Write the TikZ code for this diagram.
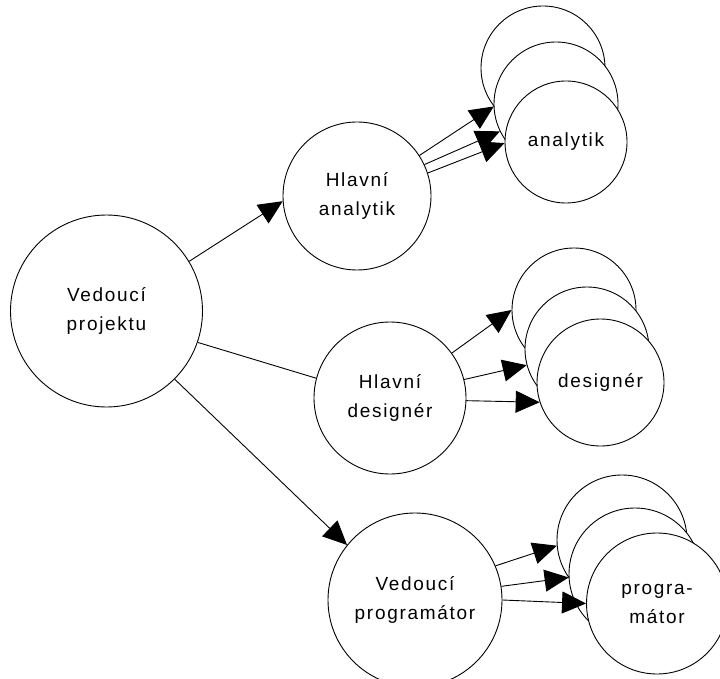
\documentclass[tikz,border=0pt]{standalone}
\usepackage{fontspec}
\setmainfont{Liberation Sans}[LetterSpace=9]
\usetikzlibrary{arrows.meta}
\begin{document}
\begin{tikzpicture}[x=1pt,y=-1pt,
  role/.style={circle,draw,fill=white,line width=0.9pt,inner sep=0pt,
    align=center,font=\fontsize{19}{29}\selectfont},
  link/.style={line width=0.9pt},
  tiplink/.style={link,-{Triangle[length=24pt,width=22pt]}}]
\useasboundingbox (0,0) rectangle (720,679);

% management roles
\node[role,minimum size=192pt] (vp) at (106.5,311) {Vedoucí\\projektu};
\node[role,minimum size=148pt] (ha) at (357,196) {Hlavní\\analytik};
\node[role,minimum size=152pt] (hd) at (390,398) {Hlavní\\designér};
\node[role,minimum size=174pt] (vprog) at (415,600) {Vedoucí\\programátor};

% team of analysts
\node[role,minimum size=124pt] (a1) at (543,68) {};
\node[role,minimum size=124pt] (a2) at (556,104) {};
\node[role,minimum size=122pt] (a3) at (566,142) {analytik};

% team of designers
\node[role,minimum size=124pt] (d1) at (574,310) {};
\node[role,minimum size=124pt] (d2) at (587,349) {};
\node[role,minimum size=127pt] (d3) at (600.5,382.5) {designér};

% team of programmers
\node[role,minimum size=130pt] (p1) at (622,540) {};
\node[role,minimum size=132pt] (p2) at (635,574) {};
\node[role,minimum size=141pt] (p3) at (657,603.5) {progra-\\mátor};

% project manager links
\draw[tiplink] (vp.31.7) -- (ha.184);
\draw[link] (vp.-19) -- (hd.165);
\draw[tiplink] (vp.-45) -- (vprog.141.7);

% lead analyst to analysts
\draw[tiplink] (ha.33) -- (a1.218);
\draw[tiplink] (ha.25) -- (a2.206.6);
\draw[tiplink] (ha.18) -- (a3.181);

% lead designer to designers
\draw[tiplink] (hd.36.6) -- (d1.180);
\draw[tiplink] (hd.14.6) -- (d2.195);
\draw[tiplink] (hd.-2) -- (d3.198.7);

% lead programmer to programmers
\draw[tiplink] (vprog.23.6) -- (p1.185);
\draw[tiplink] (vprog.9.5) -- (p2.183);
\draw[tiplink] (vprog.-0.7) -- (p3.180);
\end{tikzpicture}
\end{document}
